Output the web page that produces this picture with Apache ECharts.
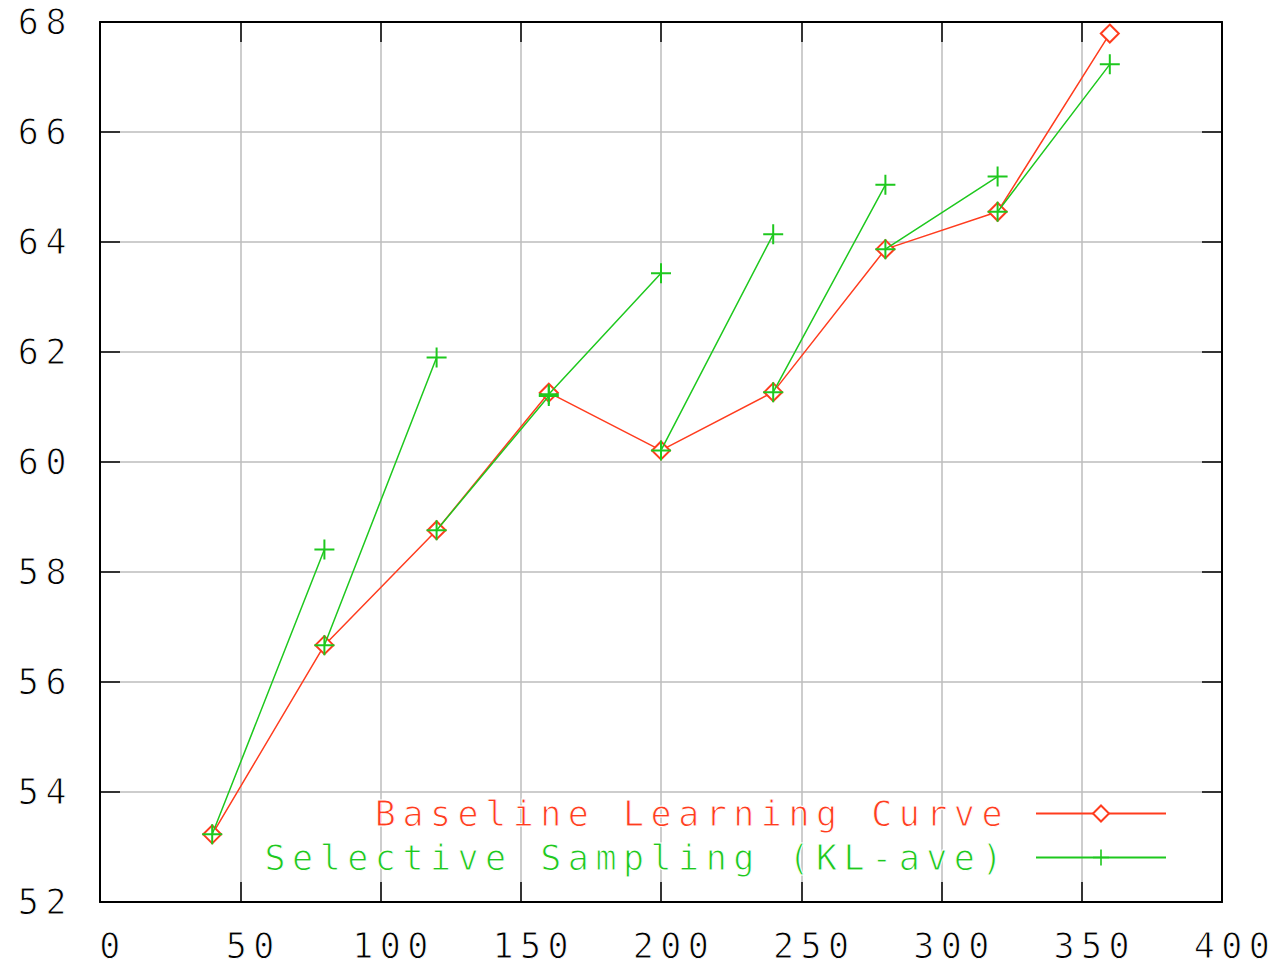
<!DOCTYPE html>
<html>
<head>
<meta charset="utf-8">
<script src="https://cdn.jsdelivr.net/npm/echarts@6/dist/echarts.min.js"></script>
<style>
  html, body { margin: 0; padding: 0; background: #ffffff; }
  #chart { width: 1279px; height: 966px; }
  /* wide, evenly spaced, light lettering of the plot labels */
  #chart text {
    letter-spacing: 6.5px;
    stroke: #ffffff !important;
    stroke-width: 1px !important;
    paint-order: normal !important;
  }
</style>
</head>
<body>
<div id="chart"></div>
<script>
// Number of labelled examples at each step
const xValues = [40, 80, 120, 160, 200, 240, 280, 320, 360];
// Accuracy of the baseline learning curve
const baseline = [53.23, 56.67, 58.76, 61.26, 60.21, 61.27, 63.87, 64.55, 67.79];
// Selective sampling: each run starts at a baseline point and ends one batch later
const selectiveStart = [53.23, 56.67, 58.76, 61.23, 60.21, 61.27, 63.87, 64.55];
const selectiveEnd = [58.41, 61.90, 61.20, 63.43, 64.14, 65.04, 65.19, 67.23];

const xTicks = { min: 0, max: 400, interval: 50 };
const yTicks = { min: 52, max: 68, interval: 2 };

const seriesNames = ['Baseline Learning Curve', 'Selective Sampling (KL-ave)'];

const FONT = 'DejaVu Sans Mono';
const RED = '#ff3c1e';
const GREEN = '#1ec81e';
const PLUS = 'path://M0,4.5H10V5.5H0Z M4.5,0H5.5V10H4.5Z';

const baselineData = xValues.map((x, i) => [x, baseline[i]]);
const selectiveData = [];
selectiveStart.forEach((y0, i) => {
  selectiveData.push([xValues[i], y0]);
  selectiveData.push([xValues[i + 1], selectiveEnd[i]]);
  selectiveData.push([xValues[i + 1], '-']); // break between runs
});

const labelStyle = { color: '#000', fontFamily: FONT, fontSize: 35 };
const frameLine = { show: true, onZero: false, lineStyle: { color: '#000', width: 2 } };
const innerTick = { show: true, inside: true, length: 20, lineStyle: { color: '#000', width: 1.5 } };
const gridLine = { show: true, lineStyle: { color: '#bdbdbd', width: 1.5 } };

function frameAxis(base, position) {
  return Object.assign({}, base, {
    position: position,
    axisLine: frameLine,
    axisTick: innerTick,
    axisLabel: { show: false },
    splitLine: { show: false },
    z: 2
  });
}

const xBase = Object.assign({ type: 'value' }, xTicks);
const yBase = Object.assign({ type: 'value' }, yTicks);

const option = {
  animation: false,
  backgroundColor: '#ffffff',
  grid: { left: 100, right: 57, top: 22, bottom: 64, containLabel: false },
  xAxis: [
    Object.assign({}, xBase, {
      position: 'bottom',
      axisLine: { show: false },
      axisTick: { show: false },
      splitLine: gridLine,
      axisLabel: Object.assign({ margin: 26, padding: [0, 0, 0, 26] }, labelStyle),
      z: 0
    }),
    frameAxis(xBase, 'bottom'),
    frameAxis(xBase, 'top')
  ],
  yAxis: [
    Object.assign({}, yBase, {
      position: 'left',
      axisLine: { show: false },
      axisTick: { show: false },
      splitLine: gridLine,
      axisLabel: Object.assign({ margin: 27 }, labelStyle),
      z: 0
    }),
    frameAxis(yBase, 'left'),
    frameAxis(yBase, 'right')
  ],
  legend: {
    orient: 'vertical',
    align: 'right',
    right: 112,
    top: 796,
    padding: 0,
    itemWidth: 130,
    itemHeight: 20,
    itemGap: 9,
    selectedMode: false,
    textStyle: { fontFamily: FONT, fontSize: 35, padding: [0, 22, 0, 0] },
    data: [
      { name: seriesNames[0], textStyle: { color: RED } },
      { name: seriesNames[1], textStyle: { color: GREEN } }
    ]
  },
  series: [
    {
      name: seriesNames[0],
      type: 'line',
      data: baselineData,
      symbol: 'emptyDiamond',
      symbolSize: 18,
      itemStyle: { color: RED, borderWidth: 1.5 },
      lineStyle: { color: RED, width: 1.5 },
      emphasis: { disabled: true },
      z: 3
    },
    {
      name: seriesNames[1],
      type: 'line',
      data: selectiveData,
      connectNulls: false,
      symbol: PLUS,
      symbolSize: 20,
      itemStyle: { color: GREEN },
      lineStyle: { color: GREEN, width: 1.5 },
      emphasis: { disabled: true },
      z: 4
    }
  ]
};

const chart = echarts.init(document.getElementById('chart'), null, { renderer: 'svg' });
chart.setOption(option);
</script>
</body>
</html>
